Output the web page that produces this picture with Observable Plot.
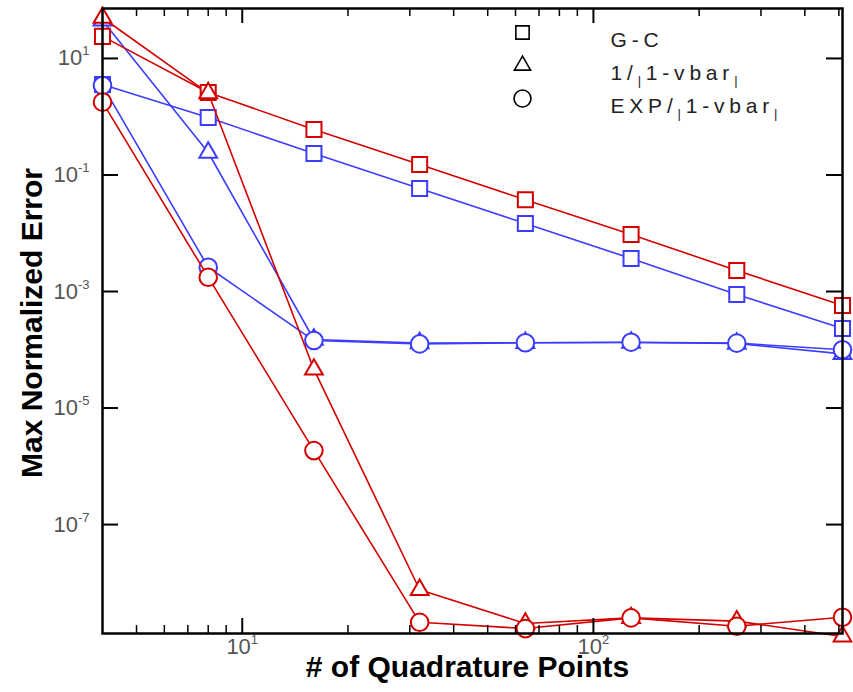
<!DOCTYPE html>
<html>
<head>
<meta charset="utf-8">
<script src="https://cdn.jsdelivr.net/npm/d3@7"></script>
<script src="https://cdn.jsdelivr.net/npm/@observablehq/plot@0.6"></script>
<style>
  html, body { margin: 0; padding: 0; background: #fff; }
  #chart svg { display: block; font-family: "Liberation Sans", Arial, sans-serif; }
</style>
</head>
<body>
<div id="chart"></div>
<script>
// ---------- data ----------
const quadraturePoints = [4, 8, 16, 32, 64, 128, 256, 512];
const methods = ["G-C", "1/|1-vbar|", "EXP/|1-vbar|"];
const cases = ["case A (red)", "case B (blue)"];

// case A (red)
const gcA  = [23.9, 2.61, 0.604, 0.151, 0.0375, 0.00953, 0.0023, 5.75e-4];
const invA = [50, 2.55, 4.6e-5, 7.6e-9, 2.0e-9, 2.5e-9, 2.2e-9, 1.2e-9];
const expA = [1.78, 1.76e-3, 1.86e-6, 2.1e-9, 1.64e-9, 2.5e-9, 1.8e-9, 2.57e-9];
// case B (blue)
const gcB  = [3.58, 0.97, 0.234, 0.0586, 0.0147, 0.00369, 8.9e-4, 2.32e-4];
const invB = [45, 0.243, 1.5e-4, 1.3e-4, 1.32e-4, 1.33e-4, 1.28e-4, 8.5e-5];
const expB = [3.44, 2.61e-3, 1.44e-4, 1.26e-4, 1.32e-4, 1.35e-4, 1.3e-4, 1.0e-4];

const yTickValues = [1e1, 1e-1, 1e-3, 1e-5, 1e-7];
const yTickLabels = ["10^1", "10^-1", "10^-3", "10^-5", "10^-7"];
const xTickValues = [10, 100];
const xTickLabels = ["10^1", "10^2"];
const xMinorTicks = [5, 6, 7, 8, 9, 20, 30, 40, 50, 60, 70, 80, 90, 200, 300, 400, 500];

// ---------- styles ----------
const W = 853, H = 692, ML = 102, MR = 11, MT = 8, MB = 59;
const frameW = W - ML - MR, frameH = H - MT - MB;
const caseColors = {"case A (red)": "#d40000", "case B (blue)": "#3c3cff"};
const methodSymbol = {"G-C": "square", "1/|1-vbar|": "triangle", "EXP/|1-vbar|": "circle"};
const methodR = {"G-C": 8.5, "1/|1-vbar|": 6.6, "EXP/|1-vbar|": 8.8};
const legendR = {"G-C": 7.5, "1/|1-vbar|": 6, "EXP/|1-vbar|": 8.5};

// ---------- table ----------
const seriesValues = {
  "case A (red)": {"G-C": gcA, "1/|1-vbar|": invA, "EXP/|1-vbar|": expA},
  "case B (blue)": {"G-C": gcB, "1/|1-vbar|": invB, "EXP/|1-vbar|": expB}
};
const rows = [];
for (const c of cases) for (const m of methods)
  seriesValues[c][m].forEach((v, i) => rows.push({n: quadraturePoints[i], err: v, method: m, case: c}));

const yLabelOf = new Map(yTickValues.map((v, i) => [v, yTickLabels[i]]));
const xLabelOf = new Map(xTickValues.map((v, i) => [v, xTickLabels[i]]));

// ---------- marks ----------
const marks = [];
// draw blue first, red on top
for (const c of [...cases].reverse()) {
  const rc = rows.filter(d => d.case === c);
  marks.push(Plot.line(rc, {x: "n", y: "err", z: "method", stroke: caseColors[c], strokeWidth: 1.6}));
  for (const m of methods) {
    marks.push(Plot.dot(rc.filter(d => d.method === m), {
      x: "n", y: "err", symbol: methodSymbol[m], r: methodR[m],
      stroke: caseColors[c], strokeWidth: 2, fill: "white"
    }));
  }
}

// frame + inward ticks (rules shortened with insets)
marks.push(Plot.frame({stroke: "black", strokeWidth: 2.5}));
marks.push(Plot.ruleY(yTickValues, {y: d => d, insetRight: frameW - 16, stroke: "black", strokeWidth: 2}));
marks.push(Plot.ruleY(yTickValues, {y: d => d, insetLeft: frameW - 16, stroke: "black", strokeWidth: 2}));
marks.push(Plot.ruleX(xTickValues, {x: d => d, insetTop: frameH - 15, stroke: "black", strokeWidth: 2}));
marks.push(Plot.ruleX(xTickValues, {x: d => d, insetBottom: frameH - 15, stroke: "black", strokeWidth: 2}));
marks.push(Plot.ruleX(xMinorTicks, {x: d => d, insetTop: frameH - 8, stroke: "black", strokeWidth: 1.5}));
marks.push(Plot.ruleX(xMinorTicks, {x: d => d, insetBottom: frameH - 8, stroke: "black", strokeWidth: 1.5}));

// tick labels
marks.push(Plot.axisY({anchor: "left", ticks: yTickValues, tickSize: 0, tickPadding: 13,
  tickFormat: d => yLabelOf.get(d), fontSize: 22, fill: "#555", label: null}));
marks.push(Plot.axisX({anchor: "bottom", ticks: xTickValues, tickSize: 0, tickPadding: 5,
  tickFormat: d => xLabelOf.get(d), fontSize: 22, fill: "#555", label: null}));

// axis titles
marks.push(Plot.text(["# of Quadrature Points"], {text: d => d, frameAnchor: "bottom", textAnchor: "middle",
  dx: -5, dy: 43, fontSize: 30, fontWeight: "bold", fill: "black"}));
marks.push(Plot.text(["Max Normalized Error"], {text: d => d, frameAnchor: "left", textAnchor: "middle",
  dx: -70, dy: 2, rotate: -90, fontSize: 30, fontWeight: "bold", fill: "black"}));

// legend
methods.forEach((m, i) => {
  marks.push(Plot.dot([m], {frameAnchor: "top-left", dx: 420, dy: 24 + i * 33,
    symbol: methodSymbol[m], r: legendR[m], stroke: "black", strokeWidth: 1.6, fill: "white"}));
  marks.push(Plot.text([m], {text: d => d, frameAnchor: "top-left", textAnchor: "start", dx: 508, dy: 24 + i * 33,
    fontSize: 21, fill: "#222"}));
});

const chart = Plot.plot({
  width: W,
  height: H,
  marginLeft: ML,
  marginRight: MR,
  marginTop: MT,
  marginBottom: MB,
  style: {fontFamily: "'Liberation Sans', Arial, sans-serif", background: "white", overflow: "visible"},
  x: {type: "log", domain: [4, 512], axis: null},
  y: {type: "log", domain: [1.35e-9, 72], axis: null},
  marks
});
document.getElementById("chart").appendChild(chart);

// ---------- post-processing: superscripts and legend bars ----------
const svg = d3.select(chart);
svg.selectAll("text").each(function () {
  const s = this.textContent;
  if (!/^10\^-?\d$/.test(s)) return;
  const [base, exp] = s.split("^");
  const t = d3.select(this);
  t.style("font-size", "22px").style("fill", "#555");
  t.text(null);
  t.append("tspan").style("font-size", "22px").text(base);
  t.append("tspan").attr("dy", -10).style("font-size", "13px").text(exp);
});
svg.selectAll("text").each(function () {
  const s = this.textContent;
  if (!methods.includes(s)) return;
  const t = d3.select(this);
  t.attr("letter-spacing", 4.8).style("font-size", "21px");
  if (!s.includes("|")) return;
  t.text(null);
  const parts = s.split("|");
  parts.forEach((p, i) => {
    const seg = t.append("tspan").text(p);
    if (i > 0) seg.attr("dy", -5);
    if (i < parts.length - 1) t.append("tspan").attr("dy", 5).style("font-size", "13px").text("|");
  });
});
</script>
</body>
</html>
